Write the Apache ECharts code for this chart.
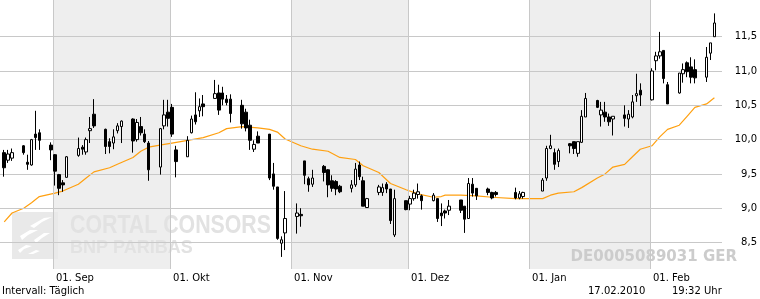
<!DOCTYPE html>
<html><head><meta charset="utf-8">
<script src="https://cdn.jsdelivr.net/npm/echarts@6/dist/echarts.min.js"></script>
<style>html,body{margin:0;padding:0;background:#fff}#c{width:760px;height:299px}</style>
</head><body><div id="c"></div><script>
const dates = ['2009-08-19','2009-08-20','2009-08-21','2009-08-24','2009-08-25','2009-08-26','2009-08-27','2009-08-28','2009-08-31','2009-09-01','2009-09-02','2009-09-03','2009-09-04','2009-09-07','2009-09-08','2009-09-09','2009-09-10','2009-09-11','2009-09-14','2009-09-15','2009-09-16','2009-09-17','2009-09-18','2009-09-21','2009-09-22','2009-09-23','2009-09-24','2009-09-25','2009-09-28','2009-09-29','2009-09-30','2009-10-01','2009-10-02','2009-10-05','2009-10-06','2009-10-07','2009-10-08','2009-10-09','2009-10-12','2009-10-13','2009-10-14','2009-10-15','2009-10-16','2009-10-19','2009-10-20','2009-10-21','2009-10-22','2009-10-23','2009-10-26','2009-10-27','2009-10-28','2009-10-29','2009-10-30','2009-11-02','2009-11-03','2009-11-04','2009-11-05','2009-11-06','2009-11-09','2009-11-10','2009-11-11','2009-11-12','2009-11-13','2009-11-16','2009-11-17','2009-11-18','2009-11-19','2009-11-20','2009-11-23','2009-11-24','2009-11-25','2009-11-26','2009-11-27','2009-11-30','2009-12-01','2009-12-02','2009-12-03','2009-12-04','2009-12-07','2009-12-08','2009-12-09','2009-12-10','2009-12-11','2009-12-14','2009-12-15','2009-12-16','2009-12-17','2009-12-18','2009-12-21','2009-12-22','2009-12-23','2009-12-28','2009-12-29','2009-12-30','2010-01-04','2010-01-05','2010-01-06','2010-01-07','2010-01-08','2010-01-11','2010-01-12','2010-01-13','2010-01-14','2010-01-15','2010-01-18','2010-01-19','2010-01-20','2010-01-21','2010-01-22','2010-01-25','2010-01-26','2010-01-27','2010-01-28','2010-01-29','2010-02-01','2010-02-02','2010-02-03','2010-02-04','2010-02-05','2010-02-08','2010-02-09','2010-02-10','2010-02-11','2010-02-12','2010-02-15','2010-02-16','2010-02-17'];
const opens = [9.81,9.70,9.73,9.91,9.67,9.63,10.08,10.10,9.92,9.78,9.49,9.37,9.45,9.77,9.89,9.82,10.13,10.37,10.15,9.97,9.95,10.13,10.19,10.30,10.00,10.19,10.08,9.95,9.60,10.20,10.40,10.47,9.85,9.75,10.10,10.36,10.42,10.52,10.60,10.68,10.68,10.59,10.59,10.50,10.40,10.21,9.86,10.05,10.08,9.50,9.31,8.49,8.64,8.88,8.91,9.69,9.43,9.35,9.61,9.56,9.40,9.39,9.32,9.29,9.34,9.63,9.40,9.01,9.23,9.23,9.35,9.28,8.61,9.11,9.06,9.14,9.20,9.18,9.11,9.14,8.93,8.96,8.97,9.12,9.03,8.85,9.35,9.29,9.28,9.23,9.23,9.23,9.15,9.17,9.25,9.44,9.87,9.81,9.68,9.94,9.97,9.80,9.96,10.33,10.57,10.36,10.40,10.33,10.30,10.36,10.30,10.33,10.64,10.72,10.58,11.15,11.22,11.30,10.80,10.68,10.96,11.12,11.06,11.02,10.91,11.26,11.50];
const closes = [9.59,9.79,9.81,9.81,9.64,10.00,10.03,9.99,9.85,9.54,9.29,9.34,9.75,9.87,9.86,10.00,10.16,10.20,9.90,9.90,10.04,10.20,10.27,9.98,10.25,10.10,9.97,9.56,10.16,10.36,10.31,10.08,9.68,9.99,10.30,10.26,10.48,10.48,10.67,10.43,10.59,10.54,10.38,10.23,10.17,9.99,9.93,9.95,9.44,9.32,8.56,8.54,8.85,8.93,8.89,9.48,9.34,9.44,9.52,9.34,9.29,9.28,9.24,9.34,9.57,9.46,9.03,9.14,9.31,9.30,9.28,8.82,9.14,8.98,9.14,9.22,9.24,9.11,9.19,8.85,8.89,8.93,9.03,8.97,8.84,9.36,9.22,9.18,9.23,9.15,9.20,9.15,9.21,9.23,9.41,9.87,9.91,9.64,9.84,9.91,9.87,9.97,10.34,10.60,10.47,10.43,10.33,10.26,10.34,10.31,10.37,10.55,10.67,10.65,11.00,11.22,11.28,10.89,10.52,10.97,11.02,10.99,10.91,10.90,11.20,11.41,11.70];
const lows = [9.46,9.66,9.69,9.78,9.56,9.62,9.85,9.85,9.70,9.33,9.19,9.24,9.45,9.75,9.78,9.78,9.95,10.17,9.79,9.80,9.86,10.09,9.95,9.81,9.97,10.06,9.95,9.40,9.49,10.15,10.19,10.04,9.45,9.75,10.09,10.22,10.33,10.34,10.60,10.36,10.50,10.50,10.25,10.16,10.12,9.85,9.82,9.95,9.41,9.27,8.54,8.29,8.39,8.63,8.73,9.35,9.24,9.31,9.39,9.16,9.24,9.19,9.22,9.23,9.31,9.41,9.03,9.01,9.19,9.18,9.22,8.77,8.58,8.97,8.97,9.11,9.14,8.98,9.10,8.80,8.74,8.85,8.90,8.93,8.64,8.85,9.17,9.12,9.19,9.13,9.17,9.13,9.13,9.14,9.25,9.40,9.86,9.56,9.60,9.80,9.79,9.75,9.95,10.33,10.46,10.19,10.26,10.20,10.06,10.19,10.17,10.31,10.55,10.49,10.57,11.01,11.18,10.82,10.52,10.67,10.83,10.91,10.82,10.82,10.84,11.16,11.50];
const highs = [9.85,9.85,9.87,9.92,9.78,10.01,10.42,10.15,9.96,9.79,9.50,9.41,9.76,10.03,9.92,10.03,10.33,10.59,10.16,10.02,10.15,10.24,10.28,10.31,10.30,10.33,10.15,9.98,10.17,10.58,10.58,10.52,9.91,10.05,10.35,10.69,10.60,10.65,10.87,10.80,10.77,10.65,10.66,10.58,10.45,10.29,9.99,10.12,10.08,9.66,9.31,8.59,9.25,9.07,9.00,9.69,9.46,9.56,9.63,9.57,9.48,9.41,9.34,9.41,9.66,9.68,9.46,9.15,9.34,9.36,9.38,9.28,9.27,9.11,9.18,9.27,9.36,9.20,9.22,9.14,9.07,8.98,9.12,9.12,9.03,9.44,9.44,9.29,9.30,9.24,9.25,9.30,9.25,9.24,9.44,9.91,10.07,9.87,9.87,9.95,9.97,9.97,10.43,10.68,10.58,10.55,10.55,10.38,10.34,10.50,10.43,10.65,10.96,10.82,11.04,11.28,11.57,11.30,10.84,10.97,11.11,11.14,11.20,11.17,11.35,11.41,11.84];
const maDates = ['2009-08-19','2009-08-21','2009-08-24','2009-08-26','2009-08-28','2009-09-01','2009-09-03','2009-09-07','2009-09-09','2009-09-11','2009-09-15','2009-09-17','2009-09-21','2009-09-23','2009-09-25','2009-09-29','2009-10-01','2009-10-05','2009-10-09','2009-10-13','2009-10-15','2009-10-19','2009-10-23','2009-10-26','2009-10-28','2009-10-30','2009-11-03','2009-11-06','2009-11-10','2009-11-13','2009-11-17','2009-11-19','2009-11-23','2009-11-26','2009-11-30','2009-12-03','2009-12-07','2009-12-09','2009-12-10','2009-12-14','2009-12-18','2009-12-22','2009-12-28','2009-12-30','2010-01-04','2010-01-06','2010-01-08','2010-01-12','2010-01-14','2010-01-18','2010-01-20','2010-01-22','2010-01-25','2010-01-27','2010-01-29','2010-02-01','2010-02-03','2010-02-05','2010-02-08','2010-02-10','2010-02-12','2010-02-15','2010-02-17'];
const maValues = [8.80,8.93,9.00,9.08,9.17,9.22,9.25,9.35,9.44,9.53,9.59,9.64,9.74,9.83,9.89,9.93,9.95,9.99,10.03,10.10,10.16,10.19,10.17,10.15,10.11,10.01,9.91,9.86,9.83,9.74,9.71,9.62,9.52,9.36,9.27,9.21,9.16,9.17,9.19,9.19,9.18,9.16,9.14,9.14,9.14,9.19,9.22,9.24,9.30,9.44,9.50,9.60,9.64,9.75,9.86,9.91,10.04,10.15,10.21,10.34,10.47,10.52,10.61];
const yTicks = [8.5, 9.0, 9.5, 10.0, 10.5, 11.0, 11.5];
const monthStarts = ['2009-09-01','2009-10-01','2009-11-01','2009-12-01','2010-01-01','2010-02-01'];
const monthLabels = ['01. Sep','01. Okt','01. Nov','01. Dez','01. Jan','01. Feb'];
const shadedMonths = [['2009-09-01','2009-10-01'],['2009-11-01','2009-12-01'],['2010-01-01','2010-02-01']];

const DAY = 86400000;
function t(s, h) { const p = s.split('-').map(Number); return Date.UTC(p[0], p[1] - 1, p[2], h || 0); }
const x0 = t('2009-09-01');
const xMin = x0 - 13.583 * DAY, xMax = x0 + 171.45 * DAY;
const yMin = 8.114, yMax = 12.035;
const monthTs = monthStarts.map(s => t(s));
const FONT = 'DejaVu Sans';
const WM = '#e2e2e2';

const chart = echarts.init(document.getElementById('c'), null, { renderer: 'canvas' });
chart.setOption({
  animation: false,
  grid: { left: 0, right: 38, top: 0, bottom: 30, containLabel: false },
  xAxis: {
    type: 'value', min: xMin, max: xMax,
    axisLine: { show: false }, axisTick: { show: false }, splitLine: { show: false },
    axisLabel: {
      customValues: monthTs,
      formatter: v => monthLabels[monthTs.indexOf(v)] || '',
      align: 'left', margin: 4, padding: [0, 0, 0, 3],
      color: '#000', fontSize: 10, fontFamily: FONT
    }
  },
  yAxis: {
    type: 'value', position: 'right', min: yMin, max: yMax, scale: true,
    axisLine: { show: false }, axisTick: { show: false }, splitLine: { show: false },
    axisLabel: {
      customValues: yTicks,
      formatter: v => v.toFixed(1).replace('.', ','),
      align: 'right', margin: 35, color: '#000', fontSize: 10, fontFamily: FONT
    }
  },
  graphic: [
    { type: 'rect', z: 2, left: 12, top: 212, shape: { width: 46, height: 47 }, style: { fill: '#e9e9e9' } },
    { type: 'polygon', z: 2, shape: { points: [[30, 226], [44, 218], [52, 217], [42, 222], [34, 228]] }, style: { fill: '#ffffff' } },
    { type: 'polygon', z: 2, shape: { points: [[20, 236], [30, 230], [38, 230], [28, 235], [22, 240]] }, style: { fill: '#ffffff' } },
    { type: 'polygon', z: 2, shape: { points: [[34, 240], [44, 233], [50, 233], [42, 238], [36, 243]] }, style: { fill: '#ffffff' } },
    { type: 'polygon', z: 2, shape: { points: [[18, 250], [26, 245], [32, 246], [24, 249], [20, 253]] }, style: { fill: '#ffffff' } },
    { type: 'polygon', z: 2, shape: { points: [[28, 254], [36, 250], [40, 251], [33, 254]] }, style: { fill: '#ffffff' } },
    { type: 'text', z: 2, x: 70, y: 213, scaleX: 0.82, style: { text: 'CORTAL CONSORS', font: 'bold 26px "Liberation Sans"', fill: WM } },
    { type: 'text', z: 2, left: 70, top: 239, style: { text: 'BNP PARIBAS', font: 'bold 18px "Liberation Sans"', fill: WM } },
    { type: 'text', z: 2, right: 23, top: 250, style: { text: 'DE0005089031 GER', font: 'bold 15px "DejaVu Sans"', fill: '#cccccc' } },
    { type: 'text', z: 2, left: 2, top: 286, style: { text: 'Intervall: Täglich', font: '10px "DejaVu Sans"', fill: '#000' } },
    { type: 'text', z: 2, left: 588, top: 286, style: { text: '17.02.2010', font: '10px "DejaVu Sans"', fill: '#000' } },
    { type: 'text', z: 2, left: 672, top: 286, style: { text: '19:32 Uhr', font: '10px "DejaVu Sans"', fill: '#000' } }
  ],
  series: [
    {
      type: 'line', data: [], z: 1, silent: true,
      markArea: {
        silent: true, itemStyle: { color: '#eeeeee' },
        data: shadedMonths.map(m => [{ xAxis: t(m[0]) }, { xAxis: t(m[1]) }])
      }
    },
    {
      type: 'line', data: [], z: 3, silent: true,
      markLine: {
        silent: true, symbol: ['none', 'none'], label: { show: false },
        lineStyle: { color: '#c8c8c8', width: 1, type: 'solid' },
        emphasis: { disabled: true },
        data: yTicks.map(v => ({ yAxis: v })).concat(monthTs.map(v => ({ xAxis: v })))
      }
    },
    {
      type: 'line', z: 4, silent: true, showSymbol: false,
      data: maDates.map((d, i) => [t(d, 12), maValues[i]]),
      lineStyle: { color: '#ffa010', width: 1.2 }
    },
    {
      type: 'candlestick', z: 5, silent: true, barWidth: 3,
      encode: { x: 0, y: [1, 2, 3, 4] },
      data: dates.map((d, i) => [t(d, 12), opens[i], closes[i], lows[i], highs[i]]),
      itemStyle: { color: '#ffffff', color0: '#000000', borderColor: '#000000', borderColor0: '#000000', borderWidth: 1 }
    }
  ]
});
</script></body></html>
